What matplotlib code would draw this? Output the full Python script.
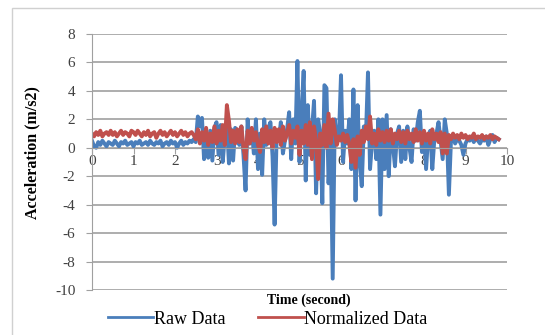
import numpy as np
import matplotlib.pyplot as plt
from matplotlib.patches import Rectangle

# time axis, 0.05 s steps
time_s = np.arange(197) * 0.05

raw_data = [
    0.5, 0.1, 0.0, 0.4, 0.2, 0.5, 0.3, 0.1, 0.4, 0.3,
    0.2, 0.5, 0.3, 0.1, 0.4, 0.3, 0.5, 0.2, 0.3, 0.4,
    0.1, 0.4, 0.3, 0.5, 0.2, 0.3, 0.4, 0.2, 0.5, 0.3,
    0.2, 0.4, 0.3, 0.5, 0.1, 0.3, 0.4, 0.2, 0.5, 0.3,
    0.4, 0.0, 0.3, 0.5, 0.2, 0.4, 0.3, 0.5, 0.4, 0.6,
    0.4, 2.2, 1.5, 2.1, -0.8, 0.5, -0.7, 1.2, -0.9, 1.4,
    1.8, -0.5, 1.6, -1.0, 0.8, 1.7, -1.1, 1.3, -0.9, 1.4,
    1.2, 0.2, 1.5, -0.5, -3.0, 2.0, 0.3, 1.2, -0.4, 2.0,
    -1.5, 1.0, -1.9, 2.0, 0.2, 1.4, 1.8, -0.6, -5.4, 1.0,
    0.5, 1.8, -0.4, 0.5, 1.3, 2.5, -0.8, 2.0, 0.3, 6.1,
    -1.0, 2.5, 5.4, -2.3, 3.0, -0.5, 1.2, 3.3, -3.2, 2.0,
    1.0, -3.9, 4.4, 4.2, -2.5, 0.6, -9.2, 2.0, 0.5, 0.8,
    5.1, -1.0, 1.2, 0.3, 2.0, -1.5, 4.1, -3.7, 3.0, -1.0,
    -2.7, 1.5, 0.8, 5.3, -1.5, 0.5, 1.2, -0.8, 2.0, -4.7,
    2.0, -1.5, 2.3, -2.0, 1.3, 0.2, -1.3, 1.0, 1.5, -1.0,
    1.2, -0.8, 1.5, 0.0, -1.0, 1.3, 0.5, 1.8, 2.6, -0.3,
    1.0, -1.5, 0.8, 1.2, -1.5, 0.6, 1.0, 1.8, 0.5, -0.8,
    2.0, 1.0, -3.3, 0.5, 0.8, 0.3, 0.6, 0.5, 0.2, -0.5,
    0.3, 0.6, 0.5, 0.8, 0.4, 0.7, 0.5, 0.3, 0.6, 0.5,
    0.8, 0.2, 0.6, 0.9, 0.4, 0.7, 0.6,
]

normalized_data = [
    1.0, 0.8, 1.1, 0.9, 1.2, 0.8, 1.0, 1.1, 0.9, 1.2,
    0.9, 1.1, 0.8, 1.0, 1.2, 0.9, 1.1, 1.0, 0.8, 1.2,
    1.1, 0.9, 1.2, 1.0, 0.8, 1.1, 0.9, 1.2, 0.8, 1.0,
    1.1, 0.7, 1.0, 1.2, 0.9, 1.1, 0.8, 1.0, 1.2, 0.9,
    1.1, 0.8, 1.0, 1.2, 0.9, 1.1, 0.8, 1.0, 1.1, 0.9,
    0.6, 1.3, 0.3, 1.1, 0.5, 1.4, 0.2, 1.0, 0.4, 1.5,
    0.3, 1.2, 0.5, 1.6, 0.2, 3.0, 1.9, 0.4, 1.2, 0.3,
    1.3, 0.4, 1.5, 0.0, -0.8, 1.2, 0.3, 1.4, 0.5, 1.1,
    0.2, -0.3, 1.3, 0.4, 1.5, 0.3, 1.2, 0.0, 1.4, 0.4,
    1.3, 0.2, 1.5, 0.5, 1.0, 1.6, 0.3, 1.2, 0.7, 1.5,
    -0.5, 1.2, 0.3, 1.6, 0.2, 1.8, -0.8, 1.5, 0.5, -2.2,
    1.0, 0.2, 1.6, 0.0, 2.4, 0.3, 2.0, 1.2, 0.2, 0.8,
    0.5, 1.0, 0.4, 0.9, 0.3, -1.0, 0.6, -1.4, 0.8, -0.5,
    1.2, 0.4, 1.5, 0.6, 2.2, 0.3, 1.0, 0.2, 1.3, 0.5,
    1.1, 0.4, 1.2, 0.5, 1.3, 0.3, 1.0, 0.6, 1.2, 0.4,
    1.1, 0.3, 1.2, 0.6, 1.0, 0.4, 1.3, 0.5, 1.1, 0.3,
    1.2, 0.5, 1.0, 0.3, 1.3, 0.6, 1.0, 0.4, 1.1, -0.4,
    1.0, -0.4, 0.9, 0.6, 1.0, 0.7, 0.9, 0.6, 1.0, 0.7,
    0.9, 0.6, 0.8, 0.7, 1.0, 0.6, 0.8, 0.7, 0.9, 0.6,
    0.8, 0.7, 0.9, 0.6, 0.8, 0.7, 0.6,
]

x_ticks = list(range(0, 11))
y_ticks = list(range(-10, 9, 2))

plt.rcParams['font.family'] = ['Liberation Serif', 'DejaVu Serif']
plt.rcParams['axes.unicode_minus'] = False

fig = plt.figure(figsize=(5.45, 3.35), dpi=100)
W, H = 545, 335
ax = fig.add_axes([92 / W, (H - 290) / H, (507 - 92) / W, (290 - 34) / H])

# light chart-area border
fig.patches.append(Rectangle((12 / W, -0.05), 1.0, (H - 8) / H + 0.05,
                             transform=fig.transFigure, fill=False,
                             edgecolor='#d0d0d0', linewidth=1))

blue = '#4a7ebb'
red = '#c0504d'
ax.plot(time_s, raw_data, color=blue, linewidth=2.8, label='Raw Data')
ax.plot(time_s, normalized_data, color=red, linewidth=2.8, label='Normalized Data')

ax.set_xlim(0, 10)
ax.set_ylim(-10, 8)
ax.set_xticks(x_ticks)
ax.set_yticks(y_ticks)
ax.grid(axis='y', color='#a0a0a0', linewidth=1.2)
ax.set_axisbelow(True)

for s in ['top', 'right']:
    ax.spines[s].set_visible(False)
ax.spines['bottom'].set_position(('data', 0))
ax.spines['bottom'].set_color('#a0a0a0')
ax.spines['left'].set_color('#a0a0a0')
ax.tick_params(axis='x', length=4, color='#a0a0a0', labelsize=11, pad=1, labelcolor='#404040')
ax.tick_params(axis='y', length=4, color='#a0a0a0', labelsize=11, pad=8, labelcolor='#404040')

fig.text(32 / W, (H - 153) / H, 'Acceleration (m/s2)', rotation=90,
         ha='center', va='center', fontsize=11.5, fontweight='bold',
         fontstretch='condensed')
fig.text(309 / W, (H - 300) / H, 'Time (second)', ha='center', va='center',
         fontsize=10, fontweight='bold')

leg = fig.legend(loc='center', bbox_to_anchor=(268 / W, (H - 319) / H), ncol=2,
                 frameon=False, fontsize=13, handlelength=2.5, handletextpad=0.05,
                 columnspacing=1.8)
for line in leg.get_lines():
    line.set_linewidth(2.0)

fig.savefig('out.png', dpi=100)
